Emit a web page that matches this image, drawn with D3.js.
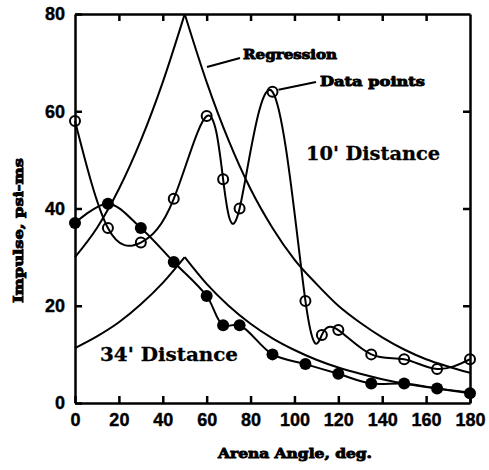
<!DOCTYPE html>
<html>
<head>
<meta charset="utf-8">
<script src="https://cdn.jsdelivr.net/npm/d3@7"></script>
<style>
  body { margin: 0; background: #fff; }
  .eje path, .eje line { stroke: #000; stroke-width: 2.5px; }
  .eje text { font-family: 'Liberation Sans', Arial, sans-serif; font-weight: bold; font-size: 18px; fill: #000; stroke: #000; stroke-width: 0.4px; }
  .rotulo { font-family: 'DejaVu Serif', serif; font-weight: bold; fill: #000; stroke: #000; }
</style>
</head>
<body>
<div id="graf"></div>
<script>
// data
// 10' distance, measured points (open circles)
angulos10 = [0, 15, 30, 45, 60, 67.5, 75, 90, 105, 112.5, 120, 135, 150, 165, 180]
impulso10 = [58, 36, 33, 42, 59, 46, 40, 64, 21, 14, 15, 10, 9, 7, 9]

// 34' distance, measured points (filled circles)
angulos34 = [0, 15, 30, 45, 60, 67.5, 75, 90, 105, 120, 135, 150, 165, 180]
impulso34 = [37, 41, 36, 29, 22, 16, 16, 10, 8, 6, 4, 4, 3, 2]

// regression curves, read every 10 deg (peak at 50 deg)
angulosReg = [0, 10, 20, 30, 40, 50, 60, 70, 80, 90, 100, 110, 120, 130, 140, 150, 160, 170, 180]
regresion10 = [30, 36, 44, 54, 66, 80, 66, 54, 44, 36, 29.5, 24.5, 20, 16.5, 13.5, 11, 9, 7.5, 6.2]
regresion34 = [11.3, 13.7, 16.6, 20.3, 24.7, 30, 24.5, 20, 16.3, 13.3, 10.9, 8.9, 7.3, 6, 4.9, 4, 3.3, 2.7, 2.2]

ticksX = [0, 20, 40, 60, 80, 100, 120, 140, 160, 180]
ticksY = [0, 20, 40, 60, 80]

// I. configuration
ancho_total = 489
alto_total = 470
margins = { top: 14, left: 75, right: 19, bottom: 67 }
ancho = ancho_total - margins.left - margins.right
alto = alto_total - margins.top - margins.bottom

svg = d3.select('#graf').append('svg')
        .attr('width', ancho_total)
        .attr('height', alto_total)

g = svg.append('g')
       .attr('transform', `translate(${ margins.left }, ${ margins.top })`)

x = d3.scaleLinear().domain([0, 180]).range([0, ancho])
y = d3.scaleLinear().domain([0, 80]).range([alto, 0])

// II. axes: ticks point inwards on all four sides
g.append('g')
  .attr('class', 'eje')
  .attr('transform', `translate(0, ${ alto })`)
  .call(d3.axisBottom(x).tickValues(ticksX).tickSizeInner(-7).tickSizeOuter(0).tickPadding(10))

g.append('g')
  .attr('class', 'eje')
  .call(d3.axisLeft(y).tickValues(ticksY).tickSizeInner(-7).tickSizeOuter(0).tickPadding(10))

g.append('g')
  .attr('class', 'eje')
  .call(d3.axisTop(x).tickValues(ticksX.slice(1, -1)).tickSizeInner(-7).tickSizeOuter(0).tickFormat(''))

g.append('g')
  .attr('class', 'eje')
  .attr('transform', `translate(${ ancho }, 0)`)
  .call(d3.axisRight(y).tickValues(ticksY.slice(1, -1)).tickSizeInner(-7).tickSizeOuter(0).tickFormat(''))

// III. curves
puntos = (xs, ys) => xs.map((a, i) => [a, ys[i]])

linea = d3.line().x(d => x(d[0])).y(d => y(d[1]))

reg10 = puntos(angulosReg, regresion10)
reg34 = puntos(angulosReg, regresion34)
pico = angulosReg.indexOf(50)

// regression: rising and falling branches drawn separately to keep the cusp
;[reg10, reg34].forEach(r => {
  ;[r.slice(0, pico + 1), r.slice(pico)].forEach(tramo => {
    g.append('path')
      .attr('d', linea.curve(d3.curveMonotoneX)(tramo))
      .attr('fill', 'none')
      .attr('stroke', '#000')
      .attr('stroke-width', 2)
  })
})

datos10 = puntos(angulos10, impulso10)
datos34 = puntos(angulos34, impulso34)

g.append('path')
  .attr('d', linea.curve(d3.curveNatural)(datos10))
  .attr('fill', 'none')
  .attr('stroke', '#000')
  .attr('stroke-width', 2)

g.append('path')
  .attr('d', linea.curve(d3.curveCatmullRom.alpha(0.5))(datos34))
  .attr('fill', 'none')
  .attr('stroke', '#000')
  .attr('stroke-width', 2)

g.selectAll('.abierto')
  .data(datos10)
  .enter()
  .append('circle')
    .attr('class', 'abierto')
    .attr('cx', d => x(d[0]))
    .attr('cy', d => y(d[1]))
    .attr('r', 5)
    .attr('fill', 'none')
    .attr('stroke', '#000')
    .attr('stroke-width', 2)

g.selectAll('.lleno')
  .data(datos34)
  .enter()
  .append('circle')
    .attr('class', 'lleno')
    .attr('cx', d => x(d[0]))
    .attr('cy', d => y(d[1]))
    .attr('r', 6)
    .attr('fill', '#000')

// IV. labels (svg coordinates)
rotulo = (txt, px, py, size, largo, grosor) => svg.append('text')
  .attr('class', 'rotulo')
  .attr('x', px)
  .attr('y', py)
  .attr('font-size', `${ size }px`)
  .attr('stroke-width', grosor)
  .attr('textLength', largo)
  .attr('lengthAdjust', 'spacingAndGlyphs')
  .text(txt)

rotulo("10' Distance", 306, 160, 18, 134, 0.3)
rotulo("34' Distance", 100, 361, 18, 138, 0.3)
rotulo('Regression', 243, 59, 13, 94, 0.9)
rotulo('Data points', 320, 86, 13, 105, 0.9)
rotulo('Arena Angle, deg.', 218, 458, 13, 154, 0.9)

svg.append('text')
  .attr('class', 'rotulo')
  .attr('transform', 'translate(23, 303) rotate(-90)')
  .attr('font-size', '13px')
  .attr('stroke-width', 0.9)
  .attr('textLength', 145)
  .attr('lengthAdjust', 'spacingAndGlyphs')
  .text('Impulse, psi-ms')

// leader lines from the labels to the curves
svg.append('line')
  .attr('x1', 207).attr('y1', 67).attr('x2', 240).attr('y2', 58)
  .attr('stroke', '#000').attr('stroke-width', 2)

svg.append('line')
  .attr('x1', margins.left + x(90) + 6).attr('y1', margins.top + y(64) - 2)
  .attr('x2', 316).attr('y2', 82)
  .attr('stroke', '#000').attr('stroke-width', 2)
</script>
</body>
</html>
